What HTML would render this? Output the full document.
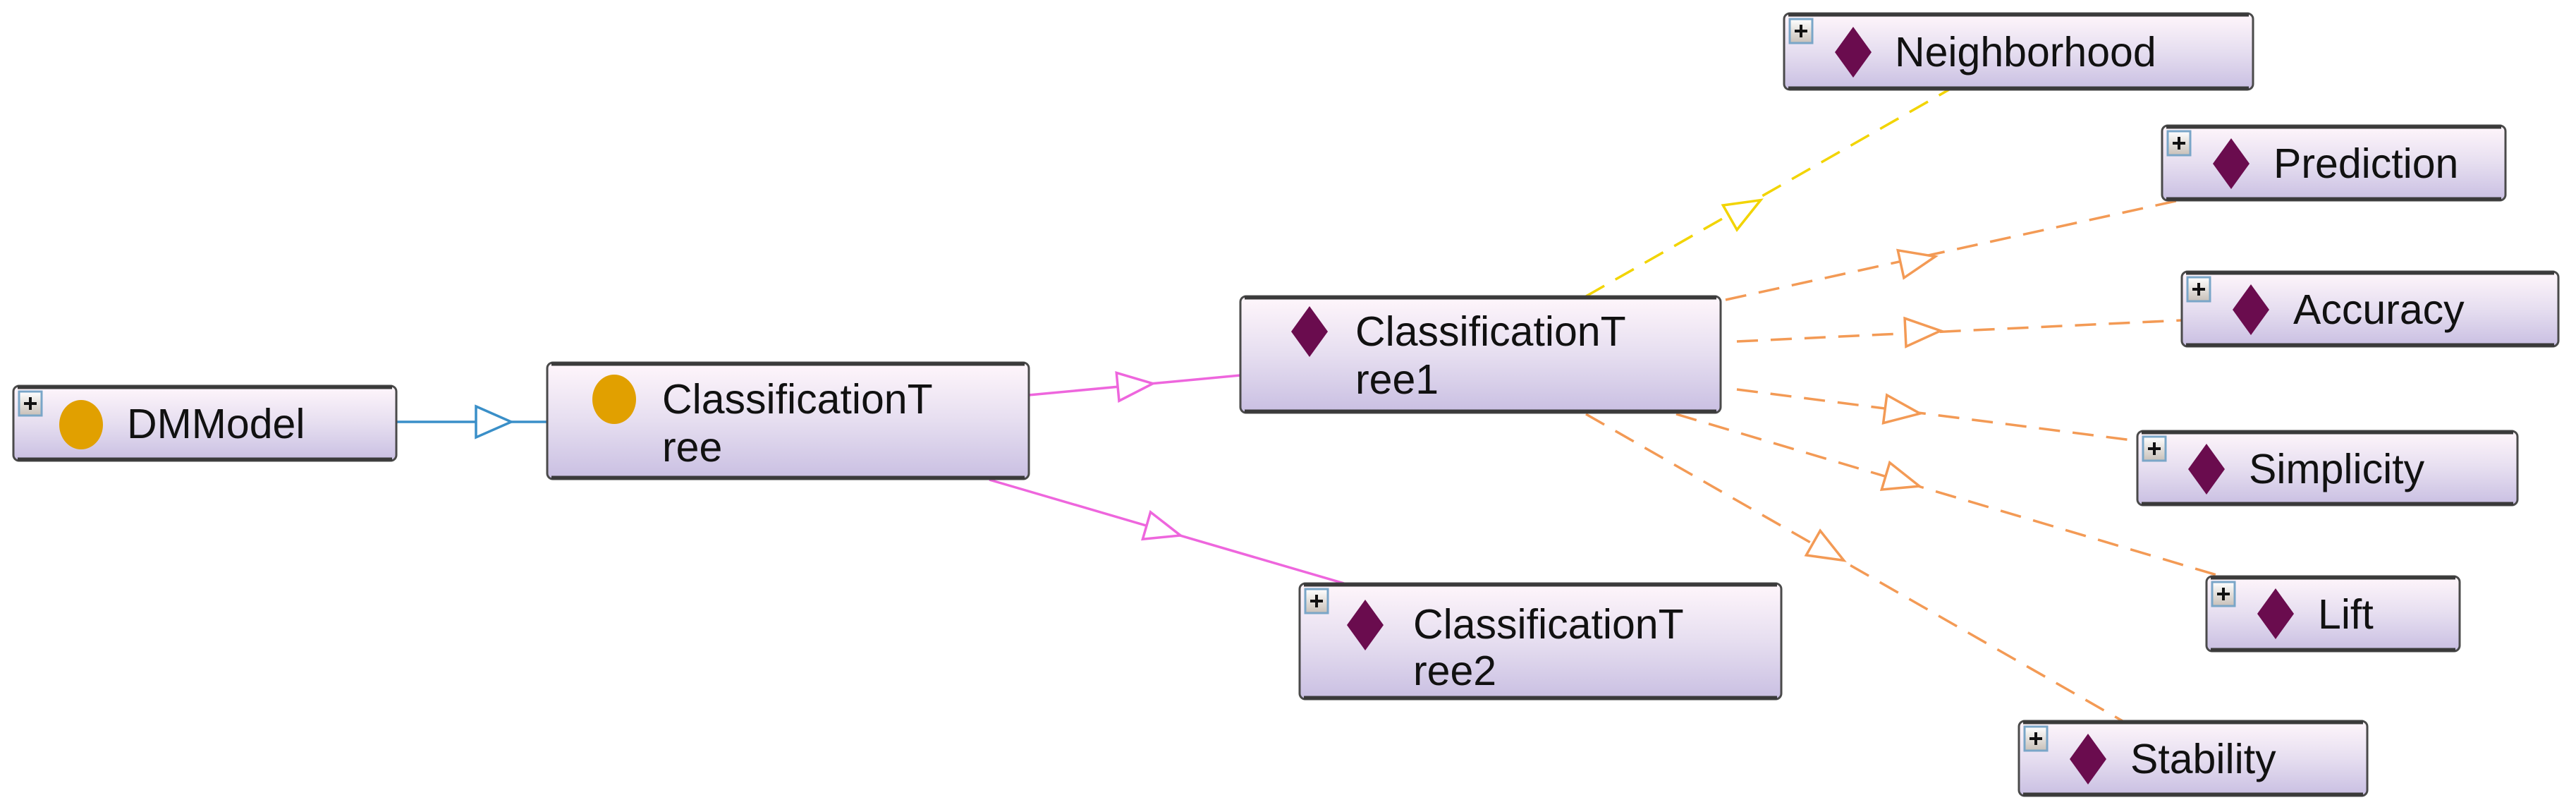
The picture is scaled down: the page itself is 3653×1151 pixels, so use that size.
<!DOCTYPE html>
<html><head><meta charset="utf-8"><style>
html,body{margin:0;padding:0;background:#fff;}
svg{display:block;}
text{font-family:"Liberation Sans",sans-serif;font-size:59px;fill:#111;}
</style></head><body>
<svg width="3653" height="1151" viewBox="0 0 3653 1151" xmlns="http://www.w3.org/2000/svg">
<defs>
<linearGradient id="g" x1="0" y1="0" x2="0" y2="1">
<stop offset="0" stop-color="#fff6fb"/><stop offset="0.5" stop-color="#e6def0"/><stop offset="1" stop-color="#c9bfe2"/>
</linearGradient>
<linearGradient id="pg" x1="0" y1="0" x2="0" y2="1">
<stop offset="0" stop-color="#ffffff"/><stop offset="1" stop-color="#c8c0b8"/>
</linearGradient>
</defs>
<g fill="none" stroke-width="3.5">
<line x1="562" y1="598" x2="776" y2="598" stroke="#3a8fc8"/>
<line x1="1459" y1="560" x2="1759" y2="532" stroke="#ee66dd"/>
<line x1="1403" y1="680" x2="1906" y2="827" stroke="#ee66dd"/>
<line x1="2249" y1="420" x2="2764" y2="127" stroke="#f2d400" stroke-dasharray="30,18"/>
<g stroke="#f39a55" stroke-dasharray="30,18">
<line x1="2447" y1="425" x2="3090" y2="284"/>
<line x1="2463" y1="484" x2="3094" y2="454"/>
<line x1="2463" y1="552" x2="3031" y2="625"/>
<line x1="2377" y1="587" x2="3150" y2="817"/>
<line x1="2249" y1="587" x2="3010" y2="1022"/>
</g>
</g>
<g fill="#fff" stroke-width="3.5">
<polygon points="-25,-22 25,0 -25,22" stroke="#3a8fc8" transform="translate(700,598)"/>
<polygon points="-25,-20 25,0 -25,20" stroke="#ee66dd" transform="translate(1610,546) rotate(-5.3)"/>
<polygon points="-25,-20 25,0 -25,20" stroke="#ee66dd" transform="translate(1650,752) rotate(16.1)"/>
<polygon points="-25,-20 25,0 -25,20" stroke="#f2d400" transform="translate(2475,296) rotate(-29.6)"/>
<g stroke="#f39a55">
<polygon points="-25,-20 25,0 -25,20" transform="translate(2720,369) rotate(-12.4)"/>
<polygon points="-25,-20 25,0 -25,20" transform="translate(2727,470) rotate(-2.7)"/>
<polygon points="-25,-20 25,0 -25,20" transform="translate(2698,583) rotate(7.3)"/>
<polygon points="-25,-20 25,0 -25,20" transform="translate(2698,682) rotate(16.6)"/>
<polygon points="-25,-20 25,0 -25,20" transform="translate(2593,782) rotate(29.7)"/>
</g>
</g>
<g stroke="#4a4a4a" stroke-width="3" fill="url(#g)">
<rect x="19" y="547" width="543" height="106" rx="8"/>
<rect x="776" y="514" width="683" height="165" rx="8"/>
<rect x="1759" y="420" width="681" height="165" rx="8"/>
<rect x="1843" y="827" width="683" height="164" rx="8"/>
<rect x="2530" y="19" width="665" height="108" rx="8"/>
<rect x="3066" y="178" width="487" height="106" rx="8"/>
<rect x="3094" y="385" width="534" height="106" rx="8"/>
<rect x="3031" y="611" width="539" height="105" rx="8"/>
<rect x="3129" y="817" width="359" height="106" rx="8"/>
<rect x="2863" y="1022" width="494" height="106" rx="8"/>
</g>
<g stroke="#3a3a3a" stroke-width="5">
<line x1="25" y1="549" x2="556" y2="549"/><line x1="25" y1="651" x2="556" y2="651"/>
<line x1="782" y1="516" x2="1453" y2="516"/><line x1="782" y1="677" x2="1453" y2="677"/>
<line x1="1765" y1="422" x2="2434" y2="422"/><line x1="1765" y1="583" x2="2434" y2="583"/>
<line x1="1849" y1="829" x2="2520" y2="829"/><line x1="1849" y1="989" x2="2520" y2="989"/>
<line x1="2536" y1="21" x2="3189" y2="21"/><line x1="2536" y1="125" x2="3189" y2="125"/>
<line x1="3072" y1="180" x2="3547" y2="180"/><line x1="3072" y1="282" x2="3547" y2="282"/>
<line x1="3100" y1="387" x2="3622" y2="387"/><line x1="3100" y1="489" x2="3622" y2="489"/>
<line x1="3037" y1="613" x2="3564" y2="613"/><line x1="3037" y1="714" x2="3564" y2="714"/>
<line x1="3135" y1="819" x2="3482" y2="819"/><line x1="3135" y1="921" x2="3482" y2="921"/>
<line x1="2869" y1="1024" x2="3351" y2="1024"/><line x1="2869" y1="1126" x2="3351" y2="1126"/>
</g>
<g>
<g transform="translate(27,555)"><rect width="32" height="34" fill="url(#pg)" stroke="#7aa6c8" stroke-width="3"/><path d="M7 17h18M16 8v18" stroke="#111" stroke-width="4"/></g>
<g transform="translate(1851,835)"><rect width="32" height="34" fill="url(#pg)" stroke="#7aa6c8" stroke-width="3"/><path d="M7 17h18M16 8v18" stroke="#111" stroke-width="4"/></g>
<g transform="translate(2538,27)"><rect width="32" height="34" fill="url(#pg)" stroke="#7aa6c8" stroke-width="3"/><path d="M7 17h18M16 8v18" stroke="#111" stroke-width="4"/></g>
<g transform="translate(3074,186)"><rect width="32" height="34" fill="url(#pg)" stroke="#7aa6c8" stroke-width="3"/><path d="M7 17h18M16 8v18" stroke="#111" stroke-width="4"/></g>
<g transform="translate(3102,393)"><rect width="32" height="34" fill="url(#pg)" stroke="#7aa6c8" stroke-width="3"/><path d="M7 17h18M16 8v18" stroke="#111" stroke-width="4"/></g>
<g transform="translate(3039,619)"><rect width="32" height="34" fill="url(#pg)" stroke="#7aa6c8" stroke-width="3"/><path d="M7 17h18M16 8v18" stroke="#111" stroke-width="4"/></g>
<g transform="translate(3137,825)"><rect width="32" height="34" fill="url(#pg)" stroke="#7aa6c8" stroke-width="3"/><path d="M7 17h18M16 8v18" stroke="#111" stroke-width="4"/></g>
<g transform="translate(2871,1030)"><rect width="32" height="34" fill="url(#pg)" stroke="#7aa6c8" stroke-width="3"/><path d="M7 17h18M16 8v18" stroke="#111" stroke-width="4"/></g>
</g>
<ellipse cx="115" cy="602" rx="31" ry="35" fill="#e1a000"/>
<ellipse cx="871" cy="566" rx="31" ry="35" fill="#e1a000"/>
<g fill="#6a0c4e">
<polygon points="1857,434 1883,470 1857,506 1831,470"/>
<polygon points="1936,850 1962,886 1936,922 1910,886"/>
<polygon points="2628,38 2654,74 2628,110 2602,74"/>
<polygon points="3164,196 3190,232 3164,268 3138,232"/>
<polygon points="3192,403 3218,439 3192,475 3166,439"/>
<polygon points="3129,629 3155,665 3129,701 3103,665"/>
<polygon points="3227,834 3253,870 3227,906 3201,870"/>
<polygon points="2961,1040 2987,1076 2961,1112 2935,1076"/>
</g>
<text x="180" y="621">DMModel</text>
<text x="939" y="586">ClassificationT</text>
<text x="939" y="654">ree</text>
<text x="1922" y="490">ClassificationT</text>
<text x="1922" y="558">ree1</text>
<text x="2004" y="905">ClassificationT</text>
<text x="2004" y="971">ree2</text>
<text x="2687" y="94">Neighborhood</text>
<text x="3224" y="252">Prediction</text>
<text x="3252" y="459">Accuracy</text>
<text x="3189" y="685">Simplicity</text>
<text x="3287" y="891">Lift</text>
<text x="3021" y="1096">Stability</text>
</svg>
</body></html>
